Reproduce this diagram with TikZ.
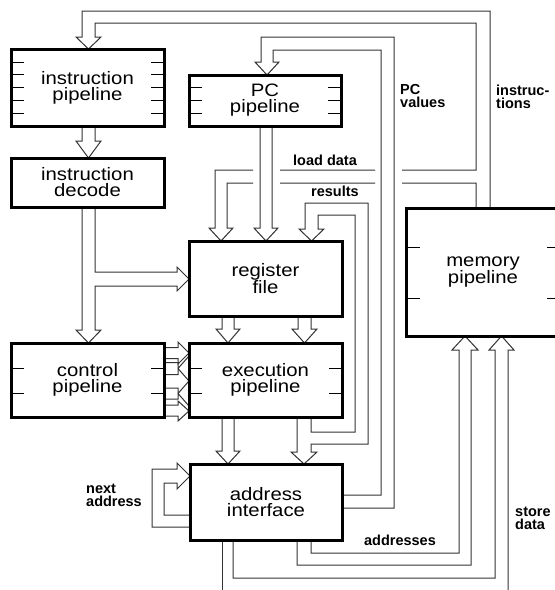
\documentclass[tikz,border=0pt]{standalone}
\usepackage{fontspec}
\newfontfamily\boxfont{Liberation Sans}[FakeStretch=1.13]
\newfontfamily\tagfont{Liberation Sans}
\usepackage{tikz}
\pgfdeclarelayer{background}
\pgfsetlayers{background,main}

\begin{document}
\begin{tikzpicture}[x=1pt, y=-1pt,
  unit/.style={draw, line width=3pt, fill=white, inner sep=0pt, outer sep=0pt,
    align=center, font=\boxfont\fontsize{18}{16}\selectfont},
  tag/.style={inner sep=0pt, align=left, font=\tagfont\bfseries\fontsize{14.5}{13}\selectfont},
  bus/.style={line width=1pt, draw=black!80},
  tick/.style={line width=1pt},
]
\useasboundingbox (0,0) rectangle (555,590);
\clip (0,0) rectangle (555,590);

\node[unit, minimum width=153pt, minimum height=77pt]  at ( 87.5, 87.5) (ipipe) {instruction\\pipeline};
\node[unit, minimum width=152pt, minimum height=51pt]  at (265.0,100.5) (pc)    {PC\\pipeline};
\node[unit, minimum width=153pt, minimum height=49pt]  at ( 87.5,182.5) (idec)  {instruction\\decode};
\node[unit, minimum width=153pt, minimum height=75pt]  at (265.5,278.5) (regf)  {register\\file};
\node[unit, minimum width=153pt, minimum height=74pt]  at ( 87.5,380.0) (cpipe) {control\\pipeline};
\node[unit, minimum width=153pt, minimum height=74pt]  at (265.5,380.0) (epipe) {execution\\pipeline};
\node[unit, minimum width=152pt, minimum height=76pt]  at (266.0,502.0) (addr)  {address\\interface};
\node[unit, minimum width=154pt, minimum height=128pt] at (483.0,272.0) (mem)   {memory\\pipeline};

\node[tag, anchor=west] at (400,96.5) (pcvals)   {PC\\values};
\node[tag, anchor=west] at (496,96.5) (instrs)   {instruc-\\tions};
\node[tag]              at (325,160)  (loaddata) {load data};
\node[tag]              at (335,191)  (results)  {results};
\node[tag]              at (400,540)  (addrs)    {addresses};
\node[tag, anchor=west] at (515,518)  (store)    {store\\data};
\node[tag, anchor=west] at (86,495)   (nextaddr) {next\\address};

% ticks on the pipeline stages
\draw[tick] (ipipe.west|-0,62) -- ++(13,0) (ipipe.west|-0,74) -- ++(13,0) (ipipe.west|-0,87) -- ++(13,0)
            (ipipe.west|-0,100) -- ++(13,0) (ipipe.west|-0,113) -- ++(13,0);
\draw[tick] (ipipe.east|-0,62) -- ++(-13,0) (ipipe.east|-0,74) -- ++(-13,0) (ipipe.east|-0,87) -- ++(-13,0)
            (ipipe.east|-0,100) -- ++(-13,0) (ipipe.east|-0,113) -- ++(-13,0);
\draw[tick] (pc.west|-0,87) -- ++(13,0) (pc.west|-0,100) -- ++(13,0) (pc.west|-0,113) -- ++(13,0);
\draw[tick] (pc.east|-0,87) -- ++(-13,0) (pc.east|-0,100) -- ++(-13,0) (pc.east|-0,113) -- ++(-13,0);
\draw[tick] (cpipe.west|-0,368) -- ++(13,0) (cpipe.west|-0,393) -- ++(13,0)
            (cpipe.east|-0,368) -- ++(-13,0) (cpipe.east|-0,393) -- ++(-13,0);
\draw[tick] (epipe.west|-0,368) -- ++(13,0) (epipe.west|-0,393) -- ++(13,0)
            (epipe.east|-0,368) -- ++(-13,0) (epipe.east|-0,393) -- ++(-13,0);
\draw[tick] (mem.west|-0,247) -- ++(14,0) (mem.west|-0,298) -- ++(14,0)
            (mem.east|-0,247) -- ++(-13,0) (mem.east|-0,298) -- ++(-13,0);

\begin{pgfonlayer}{background}
\fill[white] (0,0) rectangle (555,590);
% instructions and load data
\draw[bus] (490,0|-mem.north) -- (490,11) -- (82,11) -- (82,37) -- (76,37) -- (88.5,0|-ipipe.north)
  -- (101,37) -- (95,37) -- (95,23) -- (476,23) -- (476,170) -- (402,170) (375,170) -- (280,170)
  (253,170) -- (215,170) -- (215,228) -- (209,228) -- (221,0|-regf.north) -- (233,228) -- (227,228)
  -- (227,183) -- (253,183) (280,183) -- (375,183) (402,183) -- (476,183) -- (476,0|-mem.north);
% PC values
\draw[bus] (addr.east|-0,495) -- (381,495) -- (381,50) -- (273,50) -- (273,62) -- (279,62)
  -- (267,0|-pc.north) -- (255,62) -- (261,62) -- (261,37) -- (394,37) -- (394,508) -- (addr.east|-0,508);
\draw[bus] (260,0|-pc.south) -- (260,228) -- (254,228) -- (266,0|-regf.north) -- (278,228)
  -- (272,228) -- (272,0|-pc.south);
% results
\draw[bus] (297,0|-epipe.south) -- (297,452) -- (291,452) -- (304,0|-addr.north) -- (317,452)
  -- (311,452) -- (311,444) -- (368,444) -- (368,203) -- (305,203) -- (305,229) -- (299,229)
  -- (311.5,0|-regf.north) -- (324,229) -- (318,229) -- (318,215) -- (355,215) -- (355,432)
  -- (311,432) -- (311,0|-epipe.south);
\draw[bus] (222,0|-regf.south) -- (222,329) -- (216,329) -- (228,0|-epipe.north) -- (240,329)
  -- (234,329) -- (234,0|-regf.south);
\draw[bus] (298,0|-regf.south) -- (298,329) -- (292,329) -- (304.5,0|-epipe.north) -- (317,329)
  -- (311,329) -- (311,0|-regf.south);
\draw[bus] (222,0|-epipe.south) -- (222,451) -- (216,451) -- (228,0|-addr.north) -- (240,451)
  -- (234,451) -- (234,0|-epipe.south);
\draw[bus] (82,0|-ipipe.south) -- (82,141) -- (76,141) -- (88.5,0|-idec.north) -- (101,141)
  -- (95,141) -- (95,0|-ipipe.south);
\draw[bus] (82,0|-idec.south) -- (82,330) -- (76,330) -- (88.5,0|-cpipe.north) -- (101,330)
  -- (95,330) -- (95,286) -- (177,286) -- (177,291) -- (regf.west|-0,279) -- (177,267)
  -- (177,272) -- (95,272) -- (95,0|-idec.south);
% control <-> execution
\filldraw[bus, fill=white] (cpipe.east|-0,347.5) -- (178,347.5) -- (178,342) -- (epipe.west|-0,353)
  -- (178,364) -- (178,358.5) -- (cpipe.east|-0,358.5);
\draw[bus] (cpipe.east|-0,362.5) -- (178,362.5) -- (178,374.5) -- (cpipe.east|-0,374.5)
  (epipe.west|-0,356) -- (178,368.5) -- (epipe.west|-0,381);
\draw[bus] (cpipe.east|-0,388) -- (178,388) -- (178,399) -- (cpipe.east|-0,399)
  (epipe.west|-0,381) -- (178,393.5) -- (epipe.west|-0,406);
\filldraw[bus, fill=white] (cpipe.east|-0,405) -- (178,405) -- (178,401) -- (epipe.west|-0,411)
  -- (178,421) -- (178,416) -- (cpipe.east|-0,416);
% next address
\draw[bus] (addr.west|-0,527) -- (152,527) -- (152,469) -- (177,469) -- (177,463) -- (addr.west|-0,476)
  -- (177,489) -- (177,483) -- (164,483) -- (164,515) -- (addr.west|-0,515);
% addresses and store data
\draw[bus] (311,0|-addr.south) -- (311,553) -- (459,553) -- (459,350) -- (452,350) -- (465,0|-mem.south)
  -- (478,350) -- (471,350) -- (471,565) -- (297,565) -- (297,0|-addr.south);
\draw[bus] (222,0|-addr.south) -- (222,590);
\draw[bus] (233,0|-addr.south) -- (233,578) -- (495,578) -- (495,350) -- (489,350) -- (501.5,0|-mem.south)
  -- (514,350) -- (508,350) -- (508,590);
\end{pgfonlayer}
\end{tikzpicture}
\end{document}
